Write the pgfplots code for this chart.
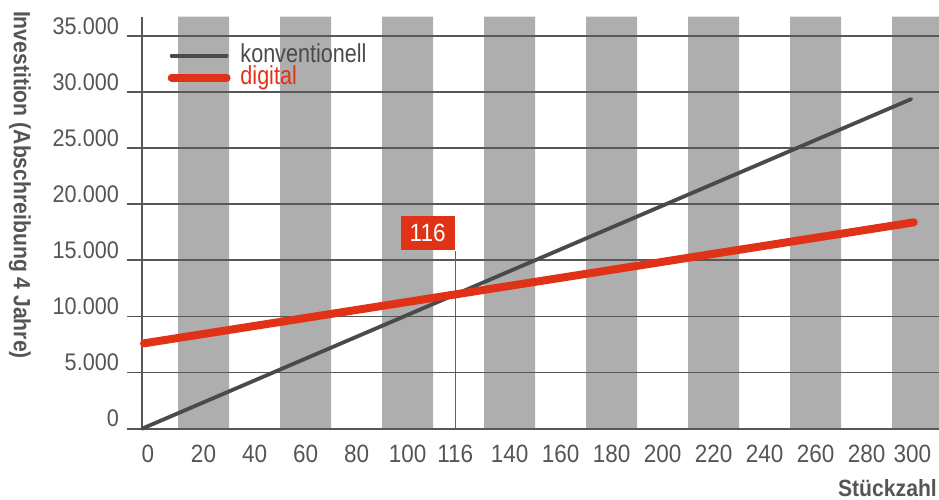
\documentclass[border=0pt]{standalone}
\usepackage{pgfplots}
\pgfplotsset{compat=1.18}
\usepackage{fontspec}
\setmainfont{Liberation Sans}[FakeStretch=0.9]
\newfontfamily\legfont{Liberation Sans}[FakeStretch=0.83]
\usetikzlibrary{calc}
\definecolor{band}{RGB}{174,174,174}
\definecolor{gridc}{RGB}{88,88,88}
\definecolor{txt}{RGB}{85,85,85}
\definecolor{conv}{RGB}{74,74,74}
\definecolor{dig}{RGB}{224,50,22}
\begin{document}
\begin{tikzpicture}
\begin{axis}[
  name=ax, at={(0,0)}, anchor=south west,
  scale only axis, width=797pt, height=412pt,
  xmin=-4.12, xmax=308.4, ymin=0, ymax=36700,
  clip=false, set layers,
  axis x line*=bottom, axis y line*=left,
  axis line style={-, draw=gridc, line width=1.7pt},
  xtick={-1.8,20,40,60,80,100,118.7,140,160,180,200,220,240,260,280,298},
  xticklabels={0,20,40,60,80,100,116,140,160,180,200,220,240,260,280,300},
  ytick={0,5000,10000,15000,20000,25000,30000,35000},
  yticklabels={0,5.000,10.000,15.000,20.000,25.000,30.000,35.000},
  ymajorgrids, major grid style={draw=gridc, line width=1.7pt},
  ytick pos=left, tick align=outside, major tick length=15.3pt,
  ytick style={draw=gridc, line width=1.7pt},
  xtick style={draw=none},
  yticklabel style={font=\fontsize{24}{24}\selectfont, text=txt, anchor=east, inner sep=0pt, yshift=10pt, xshift=-7.7pt},
  xticklabel style={font=\fontsize{25}{25}\selectfont, text=txt, anchor=base, inner sep=0pt, yshift=-18pt},
  ylabel={Investition (Abschreibung 4 Jahre)},
  ylabel style={font=\bfseries\fontsize{23.5}{23.5}\selectfont, text=txt, rotate=180, at={(axis description cs:-0.1531,0.5915)}, anchor=center},
  xlabel={Stückzahl},
  xlabel style={font=\bfseries\fontsize{23.5}{23.5}\selectfont, text=txt, inner sep=0pt, at={(axis description cs:0.9975,-0.165)}, anchor=base east},
  legend style={at={(axis description cs:0.0322,0.932)}, anchor=north west, draw=none, fill=none, inner sep=0pt, outer sep=0pt,
    column sep=9.8pt, row sep=0pt,
    nodes={inner sep=0pt, text height=18pt, text depth=4pt, font=\legfont\fontsize{26}{26}\selectfont}},
  legend cell align=left,
  legend image code/.code={\draw[#1, line cap=round] (0pt,0pt) -- (55pt,0pt);},
]
\addplot[ybar interval, fill=band, draw=none, forget plot, on layer=axis background]
  coordinates {(10,36700) (30,0) (50,36700) (70,0) (90,36700) (110,0) (130,36700) (150,0)
  (170,36700) (190,0) (210,36700) (230,0) (250,36700) (270,0) (290,36700) (308.4,0)};
\addplot[conv, line width=3.8pt, line cap=round, no markers] coordinates {(-4.12,0) (297.5,29361)};
\addlegendentry{\textcolor{conv}{konventionell}}
\addplot[dig, line width=8pt, line cap=round, no markers] coordinates {(-3.33,7605) (298.5,18381)};
\addlegendentry{\textcolor{dig}{digital}}
\addplot[dig, line width=1.2pt, no markers, forget plot] coordinates {(118.7,0) (118.7,15852)}
  node[pos=1, anchor=south east, fill=dig, text=white, minimum width=54pt, minimum height=34pt, inner sep=0pt,
  font=\fontsize{25}{25}\selectfont] {116};
\end{axis}
\pgfresetboundingbox
\path[use as bounding box] ($(ax.south west)+(-142pt,-70.3pt)$) rectangle ($(ax.north east)+(0pt,16.7pt)$);
\end{tikzpicture}
\end{document}
